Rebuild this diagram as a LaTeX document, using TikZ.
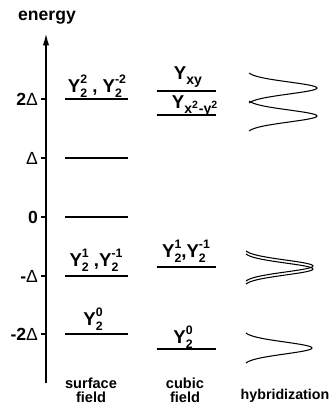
\documentclass[tikz,border=0pt]{standalone}
\usepackage{fontspec}
\setmainfont{Liberation Sans}
\usetikzlibrary{arrows.meta}
\newcommand{\Ysh}[2]{Y\ooalign{\raisebox{5pt}{\scriptsize #2}\cr\raisebox{-2.9pt}{\scriptsize #1}\cr}}

\begin{document}
\begin{tikzpicture}[x=0.02cm,y=-0.02cm,
  every node/.style={font=\bfseries},
  level/.style={line width=.8pt},
  ylab/.style={anchor=base,inner sep=0pt,font=\fontsize{10.6}{12}\selectfont\bfseries},
  hyb/.style={line width=.6pt},
  bottomlab/.style={font=\fontsize{8.3}{7.9}\selectfont\bfseries,align=center,inner sep=0pt}]
  \useasboundingbox (0,0) rectangle (331,406);
  \coordinate (axtop) at (46,33);
  \coordinate (axbot) at (46,383);
  \draw[line width=1pt,-{Latex[length=7pt,width=3.6pt]}] (axbot) -- (axtop);
  \node (energy) at (47,18) {energy};
  \foreach \y/\lab [count=\i] in {99/2{\mdseries Δ},158/{\mdseries Δ},217/0,276/-{\mdseries Δ},334/-2{\mdseries Δ}} {
    \draw[level] (41,\y) -- (46,\y);
    \node[anchor=east,inner sep=1pt] (tick\i) at (40,\y) {\lab};
    \draw[level] (65,\y) -- (128,\y);
  }
  \node[ylab] (s2) at (97,92) {\Ysh{2}{2} , \Ysh{2}{-2}};
  \node[ylab] (s1) at (96,266) {\Ysh{2}{1} ,\Ysh{2}{-1}};
  \node[ylab] (s0) at (93,325) {\Ysh{2}{0}};
  \foreach \y in {91,115,267,349}
    \draw[level] (157,\y) -- (216,\y);
  \node[ylab] (cxy) at (188,79) {Y\raisebox{-2.9pt}{\footnotesize xy}};
  \node[ylab] (cx2y2) at (195,108) {Y\raisebox{-2.9pt}{\footnotesize x\textsuperscript{2}-y\textsuperscript{2}}};
  \node[ylab] (c1) at (186,257) {\Ysh{2}{1},\Ysh{2}{-1}};
  \node[ylab] (c0) at (183,343) {\Ysh{2}{0}};
  \foreach \yc in {88,116}
    \draw[hyb] plot[domain=-15:15,samples=41,smooth] ({246+71*exp(-\x*\x/72)},{\yc+\x});
  \foreach \yc in {266,269}
    \draw[hyb] plot[domain=-15:15,samples=41,smooth] ({243+70*exp(-\x*\x/72)},{\yc+\x});
  \draw[hyb] plot[domain=-15:15,samples=41,smooth] ({243+69*exp(-\x*\x/72)},{348+\x});
  \node[bottomlab,anchor=north] (surf) at (91,378) {surface\\field};
  \node[bottomlab,anchor=north] (cubic) at (185,378) {cubic\\field};
  \node[bottomlab,font=\fontsize{8.1}{10}\selectfont\bfseries] (hybr) at (285,396) {hybridization};
\end{tikzpicture}
\end{document}
